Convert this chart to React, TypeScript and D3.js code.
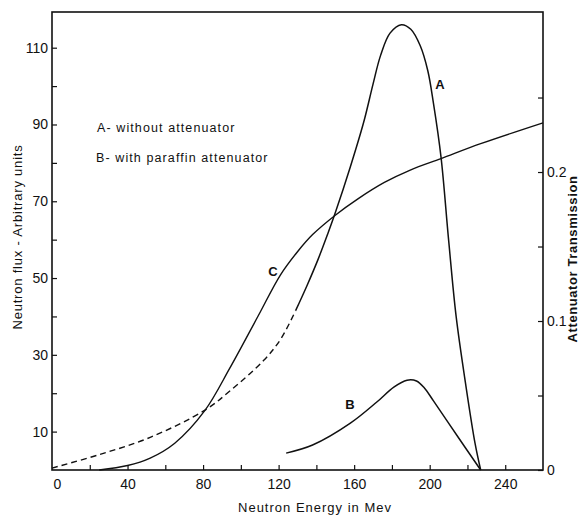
import React, { useEffect, useRef } from 'react'
import * as d3 from 'd3'

// curve A, dashed part (low energies) and solid part
const energyADashed = [0, 25, 52, 81, 94, 112, 121, 129]
const fluxADashed = [0.5, 4.0, 8.5, 15.6, 20.5, 28.5, 34, 41.5]
const energyA = [129, 135, 141, 146, 150, 158, 165, 170, 174, 179, 185, 190, 195, 199, 202, 206, 210, 214, 219, 224, 227]
const fluxA = [41.5, 48, 55, 61.5, 67, 79, 90.5, 100.5, 108, 113.8, 116, 114.8, 110.5, 104, 95.5, 81.5, 60, 40, 22.5, 7, 0]
// curve B, with paraffin attenuator
const energyB = [124, 138, 158, 172, 181, 188, 193, 197, 202, 215, 227]
const fluxB = [4.4, 6.5, 12.2, 17.7, 21.6, 23.4, 23.2, 21.5, 18, 8.6, 0]
// curve C, attenuator transmission (right axis)
const energyC = [25, 40, 52, 65, 81, 94, 109, 121, 130, 138, 150, 162, 176, 190, 206, 227, 260]
const transC = [0, 0.003, 0.008, 0.018, 0.04, 0.068, 0.103, 0.131, 0.1465, 0.158, 0.171, 0.182, 0.193, 0.2015, 0.209, 0.219, 0.233]

const energyTicks = [20, 40, 60, 80, 100, 120, 140, 160, 180, 200, 220, 240]
const energyLabels = [0, 40, 80, 120, 160, 200, 240]
const fluxTicks = [10, 20, 30, 40, 50, 60, 70, 80, 90, 100, 110]
const fluxLabels = [10, 30, 50, 70, 90, 110]
const transTicks = [0, 0.05, 0.1, 0.15, 0.2, 0.25]
const transLabels = [0, 0.1, 0.2]

const W = 582
const H = 519
const pad = { left: 52, top: 12, right: 39, bottom: 49 }
const font = '"Liberation Sans", Arial, sans-serif'

const x = d3.scaleLinear().domain([0, 260]).range([pad.left, W - pad.right])
const y = d3.scaleLinear().domain([0, 119.3]).range([H - pad.bottom, pad.top])
const yR = d3.scaleLinear().domain([0, 0.3074]).range([H - pad.bottom, pad.top])

const zip = (xs: number[], ys: number[]) => xs.map((v, i) => [v, ys[i]] as [number, number])

const fluxLine = d3.line<[number, number]>()
  .x(d => x(d[0]))
  .y(d => y(d[1]))
  .curve(d3.curveCatmullRom.alpha(0.5))
const transLine = d3.line<[number, number]>()
  .x(d => x(d[0]))
  .y(d => yR(d[1]))
  .curve(d3.curveCatmullRom.alpha(0.5))

export default function App() {
  const axesRef = useRef<SVGGElement>(null)

  useEffect(() => {
    const g = d3.select(axesRef.current)
    g.selectAll('*').remove()

    const bottom = g.append('g')
      .attr('transform', `translate(0, ${H - pad.bottom})`)
      .call(d3.axisBottom(x).tickValues([0, ...energyTicks]).tickSize(-5).tickPadding(9)
        .tickFormat(d => (energyLabels.includes(+d) ? String(d) : '')))
    const left = g.append('g')
      .attr('transform', `translate(${pad.left}, 0)`)
      .call(d3.axisLeft(y).tickValues(fluxTicks).tickSize(-5).tickPadding(4)
        .tickFormat(d => (fluxLabels.includes(+d) ? String(d) : '')))
    const right = g.append('g')
      .attr('transform', `translate(${W - pad.right}, 0)`)
      .call(d3.axisRight(yR).tickValues(transTicks).tickSize(-5).tickPadding(4)
        .tickFormat(d => (transLabels.includes(+d) ? (+d === 0 ? '0' : d3.format('.1f')(+d)) : '')))

    for (const a of [bottom, left, right]) {
      a.select('.domain').remove()
      a.selectAll('line').attr('stroke', '#111').attr('stroke-width', 1.2)
      a.selectAll('text').attr('fill', '#111').style('font-family', font).style('font-size', '14px')
    }
    bottom.selectAll('line').filter(d => d === 0).remove()
    bottom.selectAll('text').filter(d => d === 0).attr('dx', 5)
  }, [])

  return (
    <svg width={W} height={H} style={{ position: 'absolute', left: 0, top: 0, background: '#fff' }}>
      <rect x={pad.left} y={pad.top} width={W - pad.left - pad.right} height={H - pad.top - pad.bottom}
        fill="none" stroke="#111" strokeWidth={1.6} />
      <g ref={axesRef} />

      <path d={fluxLine(zip(energyADashed, fluxADashed)) ?? ''} fill="none" stroke="#111"
        strokeWidth={1.4} strokeDasharray="6 4" />
      <path d={fluxLine(zip(energyA, fluxA)) ?? ''} fill="none" stroke="#111" strokeWidth={1.5} />
      <path d={fluxLine(zip(energyB, fluxB)) ?? ''} fill="none" stroke="#111" strokeWidth={1.5} />
      <path d={transLine(zip(energyC, transC)) ?? ''} fill="none" stroke="#111" strokeWidth={1.4} />

      <g fill="#111" style={{ fontFamily: font }}>
        <text x={440} y={89} fontSize={13} fontWeight="bold" textAnchor="middle">A</text>
        <text x={350} y={409} fontSize={13} fontWeight="bold" textAnchor="middle">B</text>
        <text x={273} y={276} fontSize={13} fontWeight="bold" textAnchor="middle">C</text>

        <text x={97} y={132} fontSize={12.5} letterSpacing={1.1}>A- without attenuator</text>
        <text x={96} y={162} fontSize={12.5} letterSpacing={1.1}>B- with paraffin attenuator</text>

        <text x={315} y={512} fontSize={13} letterSpacing={1} textAnchor="middle">Neutron Energy in Mev</text>
        <text transform={`translate(22, 237) rotate(-90)`} fontSize={13} letterSpacing={0.8}
          textAnchor="middle">Neutron flux - Arbitrary units</text>
        <text transform={`translate(577, 259) rotate(-90)`} fontSize={13} fontWeight="bold"
          letterSpacing={0.6} textAnchor="middle">Attenuator  Transmission</text>
      </g>
    </svg>
  )
}
